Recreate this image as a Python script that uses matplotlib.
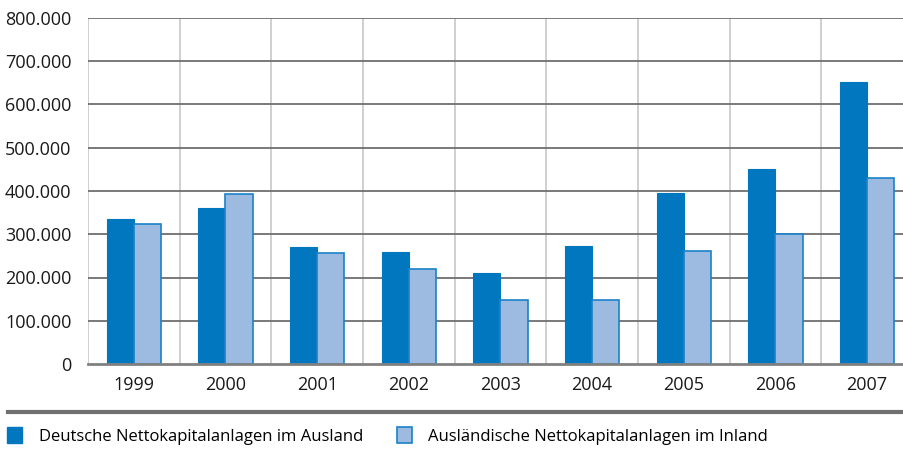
import numpy as np
import matplotlib.pyplot as plt
from matplotlib.patches import Patch
from matplotlib.lines import Line2D
from matplotlib.ticker import FuncFormatter

plt.rcParams['font.family'] = ['Open Sans', 'DejaVu Sans']

years = ['1999', '2000', '2001', '2002', '2003', '2004', '2005', '2006', '2007']
deutsche = [335000, 360000, 270000, 259000, 210000, 273000, 395000, 452000, 653000]
auslaendische = [324000, 394000, 257000, 220000, 148000, 148000, 262000, 301000, 431000]

darkBlue = '#0077be'
lightBlue = '#9dbbe0'
edgeBlue = '#1a82c8'

fig = plt.figure(figsize=(9.04, 4.5), dpi=100)
ax = fig.add_axes([88 / 904, 1 - 364 / 450, 816 / 904, 346 / 450])

x = np.arange(len(years))
w = 0.295
ax.bar(x - w / 2, deutsche, w, color=darkBlue, edgecolor=darkBlue, linewidth=0.8, zorder=3)
ax.bar(x + w / 2, auslaendische, w, color=lightBlue, edgecolor=edgeBlue, linewidth=1.2, zorder=3)

ax.set_ylim(0, 800000)
ax.set_xlim(-0.5, 8.402)
ax.set_yticks(np.arange(0, 800001, 100000))
ax.yaxis.set_major_formatter(FuncFormatter(lambda v, p: '0' if v == 0 else f'{int(v):,}'.replace(',', '.')))
ax.set_xticks(x)
ax.set_xticklabels(years)

for yv in np.arange(100000, 800001, 100000):
    ax.axhline(yv, color='#6e6e6e', linewidth=1.3, zorder=1)
for xv in np.arange(-0.5, 8.5, 1.0):
    ax.axvline(xv, color='#cccccc', linewidth=1.3, zorder=0)

for s in ['top', 'right', 'left']:
    ax.spines[s].set_visible(False)
ax.spines['bottom'].set_color('#808080')
ax.spines['bottom'].set_linewidth(2)
ax.spines['bottom'].set_zorder(4)
ax.tick_params(axis='both', length=0, labelsize=13, colors='#1a1a1a')
ax.tick_params(axis='x', pad=9)
ax.tick_params(axis='y', pad=12)

fig.add_artist(Line2D([8 / 904, 1.0], [1 - 412 / 450, 1 - 412 / 450], color='#707070', linewidth=3))

handles = [Patch(facecolor=darkBlue, edgecolor=darkBlue),
           Patch(facecolor=lightBlue, edgecolor=edgeBlue, linewidth=1.2)]
fig.legend(handles, ['Deutsche Nettokapitalanlagen im Ausland', 'Ausländische Nettokapitalanlagen im Inland'],
           loc='center left', bbox_to_anchor=(4 / 904, 1 - 436 / 450), ncol=2, frameon=False,
           fontsize=12, handlelength=0.9, handleheight=1.1, handletextpad=1.0, columnspacing=2.0,
           borderaxespad=0, borderpad=0.2)

fig.savefig('out.png', dpi=100)
